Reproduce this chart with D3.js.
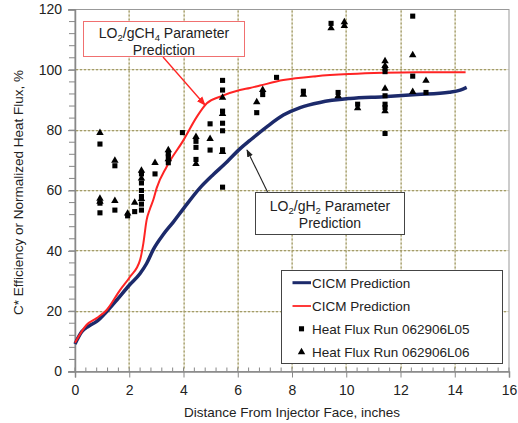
<!DOCTYPE html>
<html>
<head>
<meta charset="utf-8">
<script src="https://cdn.jsdelivr.net/npm/d3@7"></script>
<style>
  body { margin: 0; background: #fff; }
  text { font-family: Arial, "Liberation Sans", sans-serif; fill: #222; }
</style>
</head>
<body>
<svg id="chart"></svg>
<script>
// CICM prediction curves (distance in inches, %)
var h2Curve = [[0,9.1],[0.25,13.2],[0.5,15],[0.8,16.6],[1.17,19.9],[1.54,23.7],[2.0,28.6],
  [2.4,32.5],[2.64,35.8],[2.89,40.5],[3.26,45.5],[3.63,49.6],[4.0,54],[4.6,60.8],[5.1,65.3],
  [5.5,68.6],[6.08,73.8],[6.45,76.6],[7.07,81.1],[7.68,85],[8.3,87.5],[9.03,89.2],
  [10.14,90.5],[11.37,91.1],[12.6,91.8],[13.8,92.6],[14.2,93.3],[14.44,94.2]];

var ch4Curve = [[0,9.5],[0.43,15.5],[0.8,17.7],[1.17,20.4],[1.66,27],[2.03,31.4],[2.4,37],
  [2.52,42.5],[2.64,50.2],[2.76,53.8],[2.89,57],[3.01,60.8],[3.38,67.9],[4.0,76.7],
  [4.49,84.4],[4.86,88.9],[5.35,91.1],[6.08,93.3],[6.45,94],[6.82,94.8],[7.68,96.6],
  [8.9,97.9],[10.14,98.6],[11.37,99],[12.6,99.2],[14.4,99.2]];

// heat flux runs
var runL05 = [[0.92,75.4],[0.92,55.8],[0.92,52.6],[1.47,68.2],[1.47,53.5],[1.94,51.6],[2.2,53],
  [2.45,65.5],[2.45,62.5],[2.45,60],[2.45,58],[2.45,55.5],[2.45,53.5],[2.95,65.5],
  [3.44,72.2],[3.44,71.2],[3.44,69.2],[3.96,79.2],[4.46,76.3],[4.46,74.3],[4.46,70.3],
  [4.98,82.1],[4.98,73.4],[5.44,96.5],[5.44,93.3],[5.44,86.3],[5.44,82.3],[5.44,79.8],
  [5.44,73.5],[5.44,61.1],[6.7,85.8],[6.92,91.8],[7.43,97.5],[8.42,92.9],[9.44,115.4],
  [9.7,92.5],[10.42,88.6],[11.43,100.5],[11.43,99.4],[11.43,91.4],[11.43,88.6],[11.43,87.5],
  [11.43,78.9],[12.45,117.8],[12.45,97.9],[12.94,92.5]];

var runL06 = [[0.92,79.1],[0.92,57.3],[0.92,56.3],[1.47,69.9],[1.47,56.6],[1.94,52.4],[2.2,56],
  [2.45,66.6],[2.45,64],[2.45,57.2],[2.95,69.2],[3.44,73.4],[3.44,70.4],[4.46,77.8],
  [4.46,68.8],[4.98,77.1],[5.44,90.8],[5.44,85.4],[5.44,72.8],[6.7,89.3],[6.92,93.4],
  [8.42,91.8],[9.44,113.8],[9.93,115.8],[9.93,114.6],[9.7,91.3],[10.42,87.3],
  [11.43,102.9],[11.43,101.3],[11.43,93.8],[11.43,86.3],[12.45,104.9],[12.45,92.7],[12.94,96.4]];

var xTicks = [0,2,4,6,8,10,12,14,16];
var yTicks = [0,20,40,60,80,100,120];
var legendLabels = ["CICM Prediction","CICM Prediction","Heat Flux Run 062906L05","Heat Flux Run 062906L06"];

var blue = "#1c2a6b", red = "#ff2424", gridColor = "#a39c68";

var margin = {top: 9.5, right: 9, bottom: 51.5, left: 75},
    width = 518 - margin.left - margin.right,
    height = 423 - margin.top - margin.bottom;

var svg = d3.select("#chart")
    .attr("width", 518)
    .attr("height", 423)
  .append("g")
    .attr("transform", "translate(" + margin.left + "," + margin.top + ")");

var x = d3.scaleLinear().domain([0, 16]).range([0, width]);
var y = d3.scaleLinear().domain([0, 120]).range([height, 0]);

// grid: a pale base line with darker dots on top of it
var grid = svg.append("g");
grid.selectAll(".hg").data(yTicks.slice(1, -1))
  .enter().append("line")
    .attr("class", "hg")
    .attr("x1", 0).attr("x2", width)
    .attr("y1", function(d) { return Math.round(y(d)) + 0.1; })
    .attr("y2", function(d) { return Math.round(y(d)) + 0.1; })
    .attr("stroke", "#dcd8bf").attr("stroke-width", 1);
grid.selectAll(".vg").data(xTicks.slice(1, -1))
  .enter().append("line")
    .attr("class", "vg")
    .attr("y1", 0).attr("y2", height)
    .attr("x1", function(d) { return Math.round(x(d)) + 0.1; })
    .attr("x2", function(d) { return Math.round(x(d)) + 0.1; })
    .attr("stroke", "#dcd8bf").attr("stroke-width", 1);

var dots = grid.append("g").attr("fill", gridColor);
yTicks.slice(1, -1).forEach(function(v) {
  dots.selectAll(null).data(d3.range(1, width - 1, 4))
    .enter().append("rect")
      .attr("x", function(d) { return d; })
      .attr("y", Math.round(y(v)) - 0.5)
      .attr("width", 2).attr("height", 1.3);
});
xTicks.slice(1, -1).forEach(function(v) {
  dots.selectAll(null).data(d3.range(1, height - 1, 4))
    .enter().append("rect")
      .attr("x", Math.round(x(v)) - 0.5)
      .attr("y", function(d) { return d; })
      .attr("width", 1.3).attr("height", 2);
});

// frame
svg.append("rect")
    .attr("width", width).attr("height", height)
    .attr("fill", "none").attr("stroke", "#999").attr("stroke-width", 1);

// minor ticks
svg.append("g").selectAll("line").data(d3.range(0, 120.1, 4))
  .enter().append("line")
    .attr("x1", -6).attr("x2", 0)
    .attr("y1", function(d) { return y(d); }).attr("y2", function(d) { return y(d); })
    .attr("stroke", "#888");
svg.append("g").selectAll("line").data(d3.range(0, 16.01, 0.4))
  .enter().append("line")
    .attr("y1", height - 4).attr("y2", height)
    .attr("x1", function(d) { return x(d); }).attr("x2", function(d) { return x(d); })
    .attr("stroke", "#888");

var xAxis = d3.axisBottom(x).tickValues(xTicks).tickSize(6).tickPadding(8);
var yAxis = d3.axisLeft(y).tickValues(yTicks).tickSize(7).tickPadding(6);

var gx = svg.append("g")
    .attr("transform", "translate(0," + height + ")")
    .call(xAxis);
var gy = svg.append("g").call(yAxis);
[gx, gy].forEach(function(g) {
  g.select(".domain").attr("stroke", "#888").attr("stroke-width", 1.5);
  g.selectAll(".tick line").attr("stroke", "#888");
  g.selectAll(".tick text")
    .style("font-family", "Arial, 'Liberation Sans', sans-serif")
    .style("font-size", "14px").attr("fill", "#222");
});

svg.append("text")
    .attr("x", width / 2).attr("y", height + 45)
    .attr("text-anchor", "middle")
    .style("font-size", "13.5px")
    .text("Distance From Injector Face, inches");

svg.append("text")
    .attr("transform", "rotate(-90)")
    .attr("x", -183).attr("y", -52)
    .attr("text-anchor", "middle")
    .style("font-size", "13.5px")
    .text("C* Efficiency or Normalized Heat Flux, %");

// curves
var line = d3.line()
    .x(function(d) { return x(d[0]); })
    .y(function(d) { return y(d[1]); })
    .curve(d3.curveMonotoneX);

svg.append("path").datum(h2Curve)
    .attr("d", line).attr("fill", "none")
    .attr("stroke", blue).attr("stroke-width", 3.5);
svg.append("path").datum(ch4Curve)
    .attr("d", line).attr("fill", "none")
    .attr("stroke", red).attr("stroke-width", 2);

// points
var square = d3.symbol().type(d3.symbolSquare).size(26);
var triangle = d3.symbol().type(d3.symbolTriangle).size(24);

svg.selectAll(".sq").data(runL05)
  .enter().append("path")
    .attr("class", "sq")
    .attr("d", square)
    .attr("transform", function(d) { return "translate(" + x(d[0]) + "," + y(d[1]) + ")"; })
    .attr("fill", "#000");
svg.selectAll(".tri").data(runL06)
  .enter().append("path")
    .attr("class", "tri")
    .attr("d", triangle)
    .attr("transform", function(d) { return "translate(" + x(d[0]) + "," + y(d[1]) + ")"; })
    .attr("fill", "#000");

// annotations
var defs = d3.select("#chart").append("defs");
[["arRed", red], ["arBlk", "#222"]].forEach(function(a) {
  defs.append("marker")
      .attr("id", a[0]).attr("viewBox", "0 0 10 10")
      .attr("refX", 9).attr("refY", 5)
      .attr("markerWidth", 7).attr("markerHeight", 7)
      .attr("orient", "auto")
    .append("path").attr("d", "M0,1L10,5L0,9z").attr("fill", a[1]);
});

function label(g, lines, cx, cy) {
  // parts alternate: main, sub, main, sub, main
  lines.forEach(function(parts, i) {
    var t = g.append("text")
        .attr("x", cx).attr("y", cy + i * 17)
        .attr("text-anchor", "middle")
        .style("font-size", "14px");
    parts.forEach(function(p, j) {
      var ts = t.append("tspan").text(p);
      if (j % 2 === 1) ts.attr("dy", 3).style("font-size", "9.5px");
      else if (j > 0) ts.attr("dy", -3);
    });
  });
}

var ann = d3.select("#chart").append("g");
ann.append("line")
    .attr("x1", 163).attr("y1", 57).attr("x2", 205).attr("y2", 105)
    .attr("stroke", red).attr("stroke-width", 1.3).attr("marker-end", "url(#arRed)");
ann.append("rect")
    .attr("x", 83.5).attr("y", 21.5).attr("width", 161).attr("height", 35)
    .attr("fill", "#fff").attr("stroke", "#f07070").attr("stroke-width", 1);
label(ann, [["LO", "2", "/gCH", "4", " Parameter"], ["Prediction"]], 164, 37.5);

ann.append("line")
    .attr("x1", 268).attr("y1", 193).attr("x2", 247).attr("y2", 150)
    .attr("stroke", "#222").attr("stroke-width", 1.1).attr("marker-end", "url(#arBlk)");
ann.append("rect")
    .attr("x", 255.5).attr("y", 192.5).attr("width", 149).attr("height", 42)
    .attr("fill", "#fff").attr("stroke", "#444").attr("stroke-width", 1);
label(ann, [["LO", "2", "/gH", "2", " Parameter"], ["Prediction"]], 330, 211);

// legend
var leg = d3.select("#chart").append("g");
leg.append("rect")
    .attr("x", 281.5).attr("y", 270.5).attr("width", 221).attr("height", 93)
    .attr("fill", "#fff").attr("stroke", "#444").attr("stroke-width", 1);
var rowY = [282.7, 306, 328.8, 352];
legendLabels.forEach(function(t, i) {
  var g = leg.append("g").attr("transform", "translate(0," + rowY[i] + ")");
  if (i < 2) {
    g.append("line").attr("x1", 292.5).attr("x2", 311).attr("y1", 0).attr("y2", 0)
      .attr("stroke", i === 0 ? blue : red).attr("stroke-width", i === 0 ? 3 : 1.8);
  } else {
    g.append("path").attr("d", i === 2 ? square : triangle)
      .attr("transform", "translate(301.5,0)").attr("fill", "#000");
  }
  g.append("text").attr("x", 312).attr("y", 5)
    .style("font-size", "13.5px").text(t);
});
</script>
</body>
</html>
